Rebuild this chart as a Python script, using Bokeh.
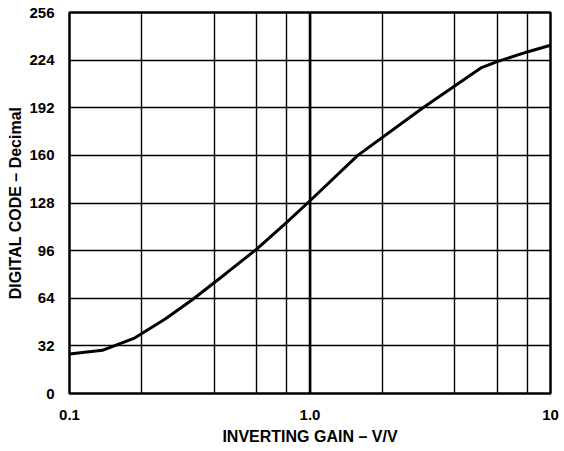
from bokeh.plotting import figure
from bokeh.models import FixedTicker, Range1d, Span, Title
from bokeh.embed import file_html
from bokeh.resources import INLINE

# Data
gain = [0.1, 0.137, 0.185, 0.25, 0.324, 0.45, 0.6, 0.8, 1.0, 1.58, 2.95, 5.17, 6.0, 8.0, 10.0]
code = [26.5, 29.0, 37.0, 50.0, 63.0, 81.0, 97.0, 115.0, 129.5, 160.0, 192.0, 219.0, 223.0, 229.5, 234.0]

x_grid_ticks = [0.1, 0.2, 0.4, 0.6, 0.8, 1.0, 2.0, 4.0, 6.0, 8.0, 10.0]
x_label_ticks = [0.1, 1.0, 10.0]
x_label_text = ["0.1", "1.0", "10"]
y_ticks = [0, 32, 64, 96, 128, 160, 192, 224, 256]

FONT = "Liberation Sans"

p = figure(width=560, height=447, x_axis_type="log",
           x_range=Range1d(0.1, 10), y_range=Range1d(0, 256),
           output_backend="svg", toolbar_location=None,
           min_border_left=69, min_border_right=10,
           min_border_top=12, min_border_bottom=50)

p.outline_line_color = "black"
p.outline_line_width = 2.5
p.outline_line_alpha = 1.0

# grid
p.xgrid.ticker = FixedTicker(ticks=x_grid_ticks)
p.ygrid.ticker = FixedTicker(ticks=y_ticks)
for g in (p.xgrid, p.ygrid):
    g.grid_line_color = "black"
    g.grid_line_width = 1.4
    g.grid_line_alpha = 1.0

p.add_layout(Span(location=1.0, dimension="height", line_color="black", line_width=2.5))

# axes
p.xaxis.ticker = FixedTicker(ticks=x_label_ticks)
p.xaxis.major_label_overrides = {t: s for t, s in zip(x_label_ticks, x_label_text)}
p.yaxis.ticker = FixedTicker(ticks=y_ticks)

for ax in (p.xaxis, p.yaxis):
    ax.axis_line_color = None
    ax.major_tick_line_color = None
    ax.minor_tick_line_color = None
    ax.major_label_text_font = FONT
    ax.major_label_text_font_style = "bold"
    ax.major_label_text_font_size = "15px"
    ax.major_label_text_color = "black"
    ax.axis_label_text_font = FONT
    ax.axis_label_text_font_style = "bold"
    ax.axis_label_text_font_size = "16px"
    ax.axis_label_text_color = "black"

p.xaxis.axis_label = "INVERTING GAIN – V/V"
p.xaxis.major_label_standoff = 10
p.yaxis.major_label_standoff = 9
p.xaxis.axis_label_standoff = 5

p.add_layout(Title(text="DIGITAL CODE – Decimal", align="center", offset=20,
                   text_font=FONT, text_font_style="bold", text_font_size="16px",
                   text_color="black", standoff=6), "left")

p.line(gain, code, line_color="black", line_width=3)

open("out.html", "w").write(file_html(p, INLINE))
